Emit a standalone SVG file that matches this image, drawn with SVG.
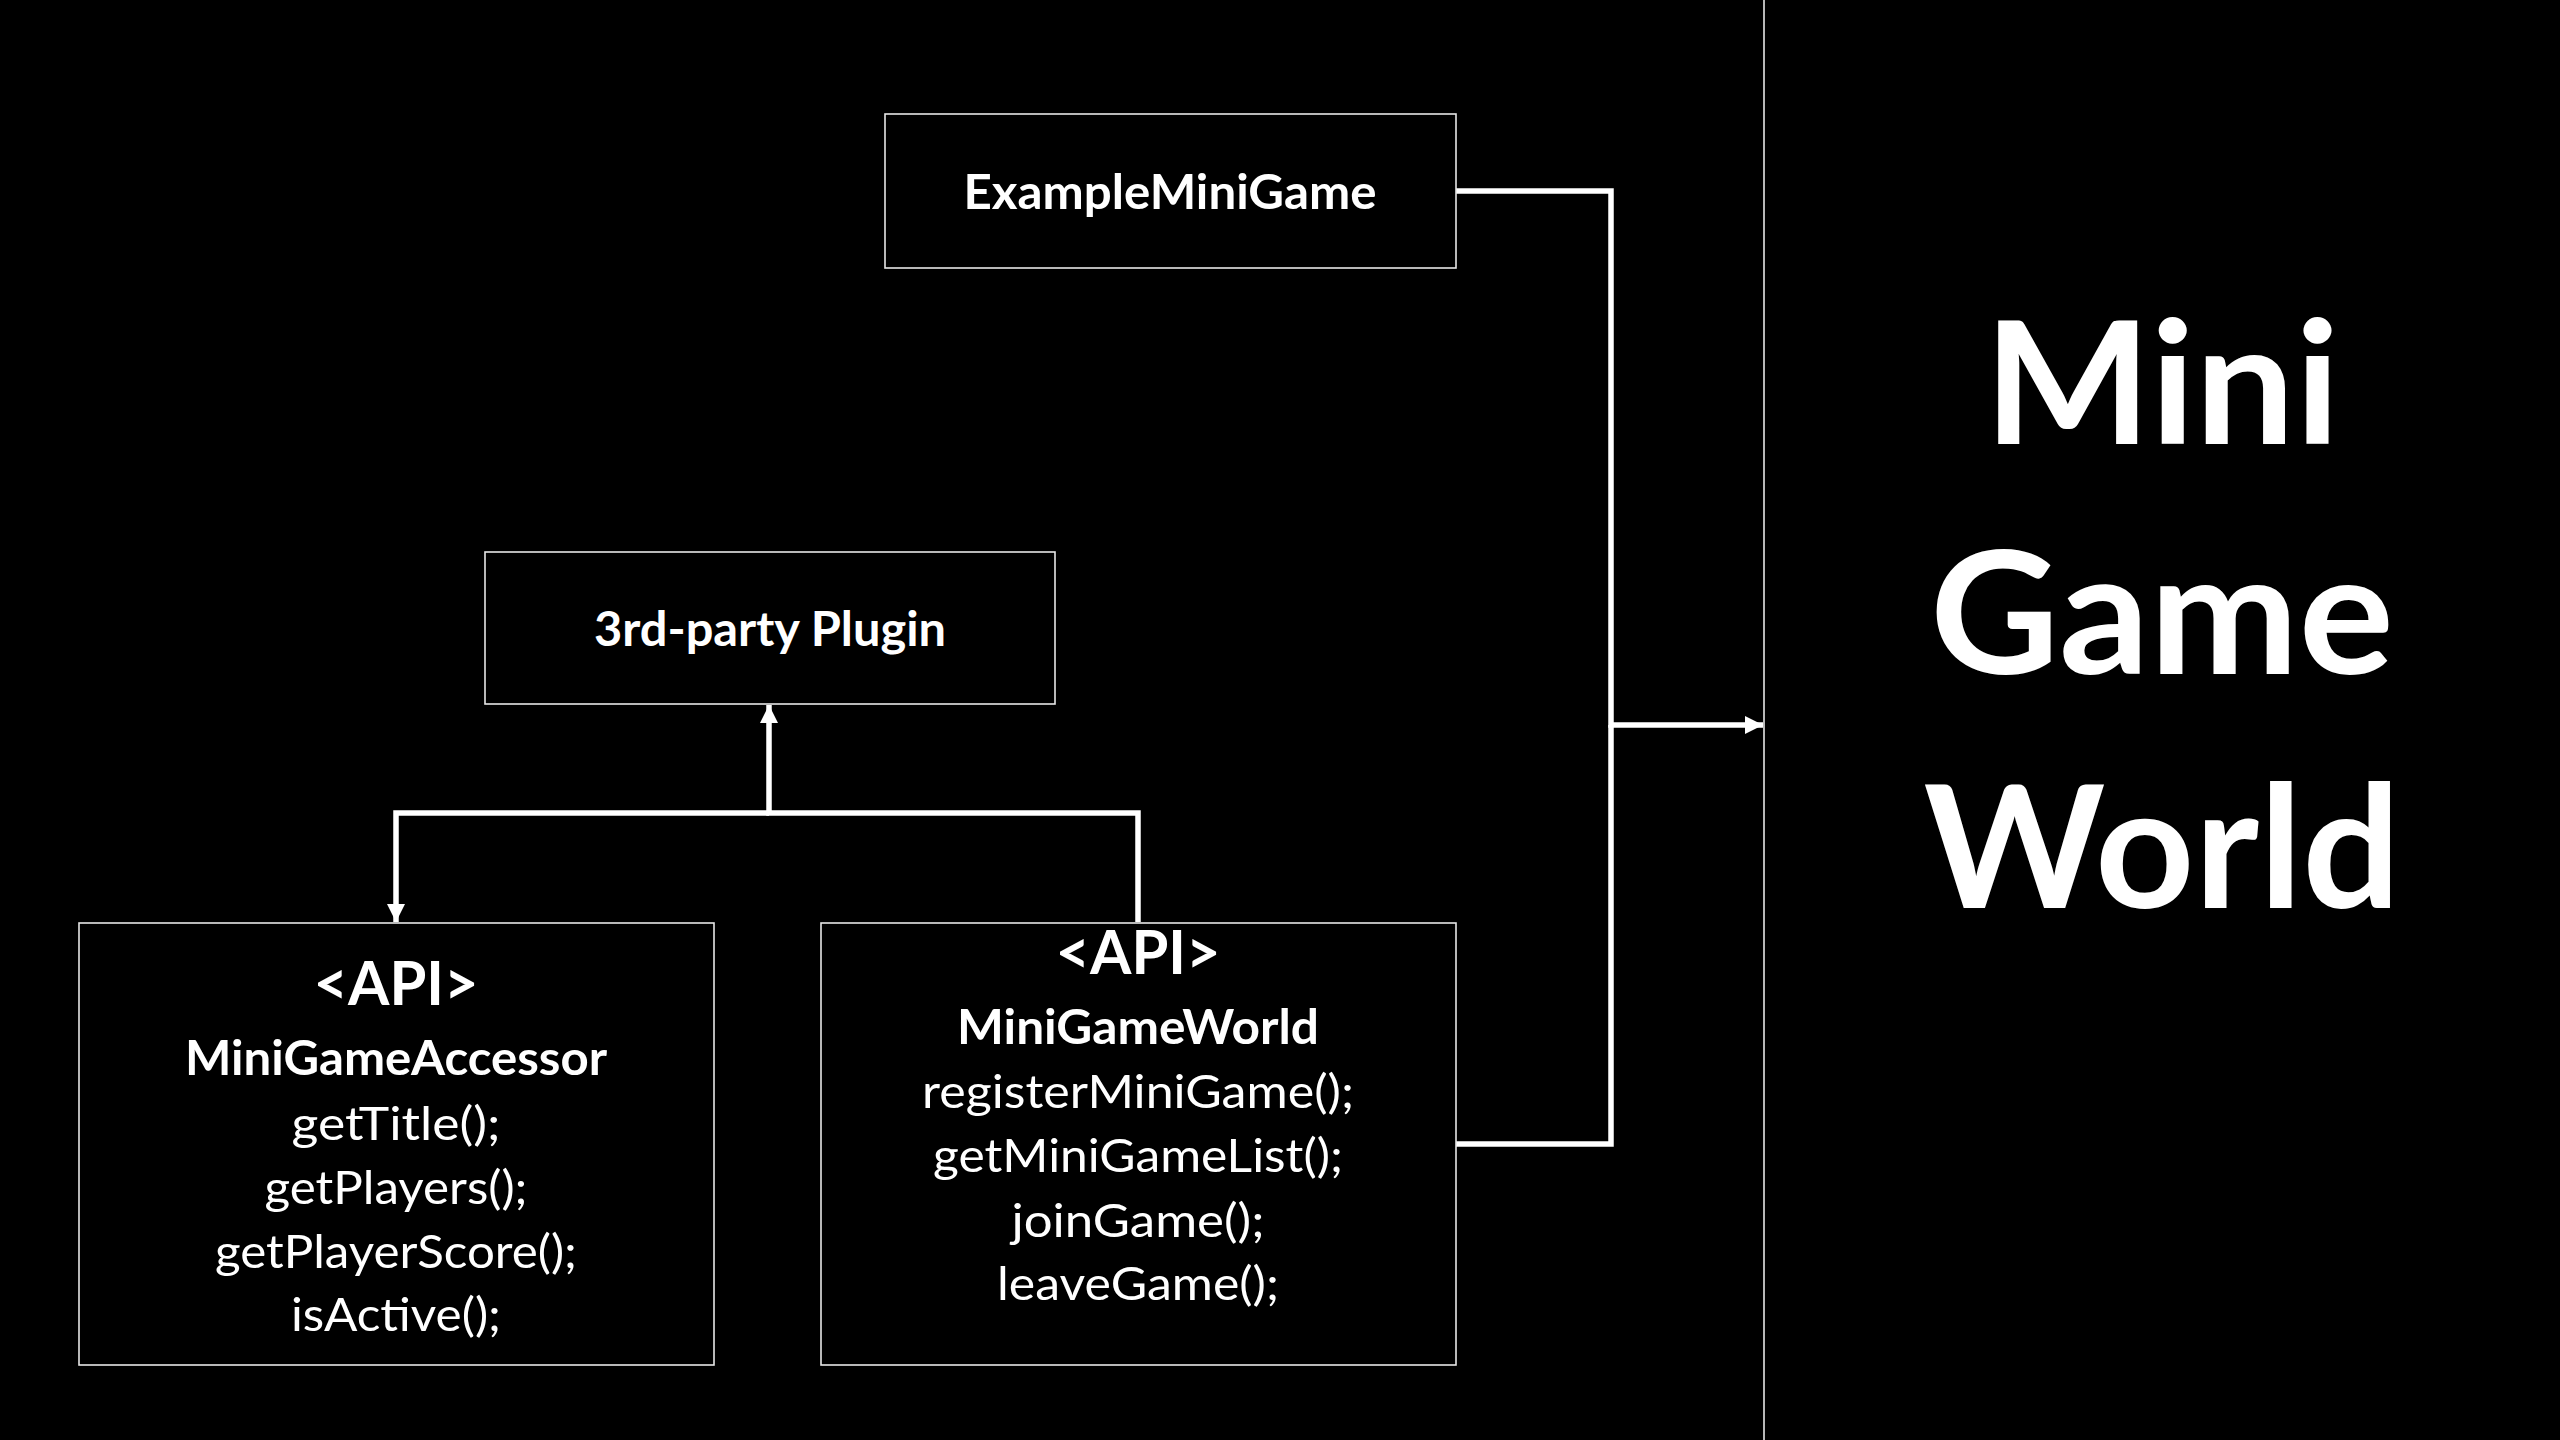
<svg xmlns="http://www.w3.org/2000/svg" width="2560" height="1440" viewBox="0 0 2560 1440">
<style>
.box{fill:#000;stroke:#e6e6e6;stroke-width:1.6}
.t{font-family:Lato,"Liberation Sans",sans-serif;fill:#fff;text-anchor:middle}
.b{font-weight:bold}
.m{font-size:47px}
.api{font-size:62px;font-weight:bold}
.big{font-size:170px;font-weight:bold}
.conn{fill:none;stroke:#fff;stroke-width:5.5}
</style>
<defs>
<marker id="arr" markerUnits="userSpaceOnUse" markerWidth="19" markerHeight="18" refX="18" refY="9" orient="auto">
<path d="M0,0 L18,9 L0,18 z" fill="#fff"/>
</marker>
</defs>
<rect width="2560" height="1440" fill="#000"/>
<line x1="1764" y1="0" x2="1764" y2="1440" stroke="#e6e6e6" stroke-width="1.6"/>
<g id="connectors">
<path class="conn" d="M1456 191 H1611 V725 H1763" marker-end="url(#arr)"/>
<path class="conn" d="M1456 1144 H1611 V725"/>
<path class="conn" d="M1138 922 V813 H769 V705" marker-end="url(#arr)"/>
<path class="conn" d="M769 813 H396 V922" marker-end="url(#arr)"/>
</g>
<g id="example-mini-game">
<rect class="box" x="885" y="114" width="571" height="154"/>
<text class="t b m" x="1170" y="209" textLength="413" lengthAdjust="spacingAndGlyphs">ExampleMiniGame</text>
</g>
<g id="third-party-plugin">
<rect class="box" x="485" y="552" width="570" height="152"/>
<text class="t b m" x="770" y="646" textLength="352" lengthAdjust="spacingAndGlyphs">3rd-party Plugin</text>
</g>
<g id="mini-game-accessor">
<rect class="box" x="79" y="923" width="635" height="442"/>
<text class="t api" x="396" y="1005" textLength="165" lengthAdjust="spacingAndGlyphs">&lt;API&gt;</text>
<text class="t b m" x="396" y="1075" textLength="422" lengthAdjust="spacingAndGlyphs">MiniGameAccessor</text>
<text class="t m" x="396" y="1140" textLength="209" lengthAdjust="spacingAndGlyphs">getTitle();</text>
<text class="t m" x="396" y="1204" textLength="263" lengthAdjust="spacingAndGlyphs">getPlayers();</text>
<text class="t m" x="396" y="1268" textLength="362" lengthAdjust="spacingAndGlyphs">getPlayerScore();</text>
<text class="t m" x="396" y="1331" textLength="210" lengthAdjust="spacingAndGlyphs">isActive();</text>
</g>
<g id="mini-game-world-api">
<rect class="box" x="821" y="923" width="635" height="442"/>
<text class="t api" x="1138" y="974" textLength="165" lengthAdjust="spacingAndGlyphs">&lt;API&gt;</text>
<text class="t b m" x="1138" y="1044" textLength="362" lengthAdjust="spacingAndGlyphs">MiniGameWorld</text>
<text class="t m" x="1138" y="1108" textLength="432" lengthAdjust="spacingAndGlyphs">registerMiniGame();</text>
<text class="t m" x="1138" y="1172" textLength="410" lengthAdjust="spacingAndGlyphs">getMiniGameList();</text>
<text class="t m" x="1138" y="1237" textLength="253" lengthAdjust="spacingAndGlyphs">joinGame();</text>
<text class="t m" x="1138" y="1300" textLength="282" lengthAdjust="spacingAndGlyphs">leaveGame();</text>
</g>
<g id="title">
<text class="t big" x="2162" y="444" textLength="356" lengthAdjust="spacingAndGlyphs">Mini</text>
<text class="t big" x="2162" y="674" textLength="464" lengthAdjust="spacingAndGlyphs">Game</text>
<text class="t big" x="2162" y="908" textLength="477" lengthAdjust="spacingAndGlyphs">World</text>
</g>
</svg>
